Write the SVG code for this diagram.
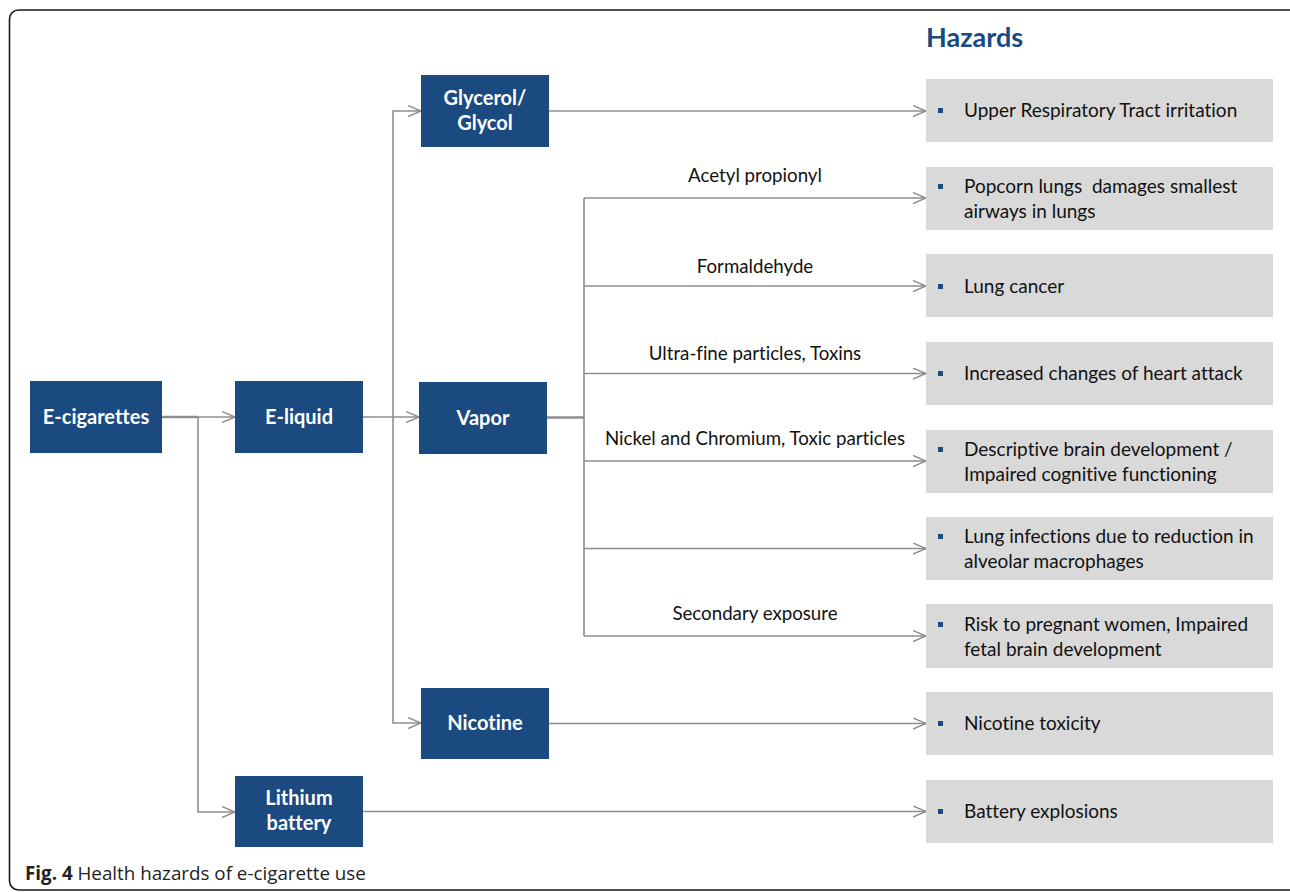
<svg xmlns="http://www.w3.org/2000/svg" width="1290" height="892" viewBox="0 0 1290 892">
<defs>
<style>
text{font-variant-ligatures:none}
.node rect{fill:#1a4a7f}
.node text{fill:#ffffff;font-family:Lato,"Liberation Sans",sans-serif;font-weight:bold;font-size:20px;text-anchor:middle}
.haz rect.bg{fill:#d9d9d9}
.haz rect.bul{fill:#1a4a7f}
.haz text{fill:#111111;font-family:Lato,"Liberation Sans",sans-serif;font-size:19px}
.conn path,.conn line{stroke:#8e8e8e;stroke-width:1.6;fill:none}
.lbl{fill:#111111;font-family:Lato,"Liberation Sans",sans-serif;font-size:18.7px;text-anchor:middle}
</style>
<marker id="arr" markerUnits="userSpaceOnUse" markerWidth="16" markerHeight="14" refX="13" refY="6" orient="auto" viewBox="0 0 16 14">
<path d="M0,0.5 L13,6 L0,11.5" fill="none" stroke="#8e8e8e" stroke-width="1.4"/>
</marker>
</defs>
<rect x="0" y="0" width="1290" height="892" fill="#ffffff"/>
<rect x="9.5" y="10" width="1295" height="880" rx="9" fill="none" stroke="#1a1a1a" stroke-width="1.6"/>

<text x="926" y="47" font-family="Lato,'Liberation Sans',sans-serif" font-weight="bold" font-size="27" fill="#1a4a7f">Hazards</text>

<g class="conn" id="connectors">
<path d="M162,417 H198" style="stroke-width:2.6"/>
<path d="M198,417 H235" marker-end="url(#arr)"/>
<path d="M198,417 V812 H235" marker-end="url(#arr)"/>
<path d="M363,417 H419" marker-end="url(#arr)"/>
<path d="M393,417 V111 H421" marker-end="url(#arr)"/>
<path d="M393,417 V723 H421" marker-end="url(#arr)"/>
<path d="M547,417.5 H584" style="stroke-width:2.6"/>
<path d="M584,198 V636"/>
<path d="M584,198 H926" marker-end="url(#arr)"/>
<path d="M584,286 H926" marker-end="url(#arr)"/>
<path d="M584,373.5 H926" marker-end="url(#arr)"/>
<path d="M584,461 H926" marker-end="url(#arr)"/>
<path d="M584,548.5 H926" marker-end="url(#arr)"/>
<path d="M584,636 H926" marker-end="url(#arr)"/>
<path d="M549,111 H926" marker-end="url(#arr)"/>
<path d="M549,723.5 H926" marker-end="url(#arr)"/>
<path d="M363,811.5 H926" marker-end="url(#arr)"/>
<text class="lbl" x="755" y="182">Acetyl propionyl</text>
<text class="lbl" x="755" y="273">Formaldehyde</text>
<text class="lbl" x="755" y="360">Ultra-fine particles, Toxins</text>
<text class="lbl" x="755" y="445">Nickel and Chromium, Toxic particles</text>
<text class="lbl" x="755" y="620">Secondary exposure</text>
</g>

<g class="node" id="ecig"><rect x="30" y="381" width="132" height="72"/><text x="96" y="424">E-cigarettes</text></g>
<g class="node" id="eliquid"><rect x="235" y="381" width="128" height="72"/><text x="299" y="424">E-liquid</text></g>
<g class="node" id="vapor"><rect x="419" y="382" width="128" height="72"/><text x="483" y="425">Vapor</text></g>
<g class="node" id="glycerol"><rect x="421" y="75" width="128" height="72"/><text x="485" y="105">Glycerol/</text><text x="485" y="130">Glycol</text></g>
<g class="node" id="nicotine"><rect x="421" y="688" width="128" height="71"/><text x="485" y="730">Nicotine</text></g>
<g class="node" id="lithium"><rect x="235" y="776" width="128" height="71"/><text x="299" y="805">Lithium</text><text x="299" y="830">battery</text></g>

<g class="haz" id="h1"><rect class="bg" x="926" y="79" width="347" height="63"/><rect class="bul" x="938" y="108" width="5" height="5"/><text x="964" y="117">Upper Respiratory Tract irritation</text></g>
<g class="haz" id="h2"><rect class="bg" x="926" y="167" width="347" height="63"/><rect class="bul" x="938" y="184" width="5" height="5"/><text x="964" y="193" xml:space="preserve">Popcorn lungs  damages smallest</text><text x="964" y="218">airways in lungs</text></g>
<g class="haz" id="h3"><rect class="bg" x="926" y="254" width="347" height="63"/><rect class="bul" x="938" y="284" width="5" height="5"/><text x="964" y="293">Lung cancer</text></g>
<g class="haz" id="h4"><rect class="bg" x="926" y="342" width="347" height="63"/><rect class="bul" x="938" y="371" width="5" height="5"/><text x="964" y="380">Increased changes of heart attack</text></g>
<g class="haz" id="h5"><rect class="bg" x="926" y="430" width="347" height="63"/><rect class="bul" x="938" y="447" width="5" height="5"/><text x="964" y="456">Descriptive brain development /</text><text x="964" y="481">Impaired cognitive functioning</text></g>
<g class="haz" id="h6"><rect class="bg" x="926" y="517" width="347" height="63"/><rect class="bul" x="938" y="534" width="5" height="5"/><text x="964" y="543">Lung infections due to reduction in</text><text x="964" y="568">alveolar macrophages</text></g>
<g class="haz" id="h7"><rect class="bg" x="926" y="604" width="347" height="64"/><rect class="bul" x="938" y="622" width="5" height="5"/><text x="964" y="631">Risk to pregnant women, Impaired</text><text x="964" y="656">fetal brain development</text></g>
<g class="haz" id="h8"><rect class="bg" x="926" y="692" width="347" height="63"/><rect class="bul" x="938" y="721" width="5" height="5"/><text x="964" y="730">Nicotine toxicity</text></g>
<g class="haz" id="h9"><rect class="bg" x="926" y="780" width="347" height="63"/><rect class="bul" x="938" y="809" width="5" height="5"/><text x="964" y="818">Battery explosions</text></g>

<text x="25" y="880" font-family="'Open Sans','Liberation Sans',sans-serif" font-size="18.8" fill="#222222"><tspan font-weight="bold">Fig. 4</tspan> Health hazards of e-cigarette use</text>
</svg>
